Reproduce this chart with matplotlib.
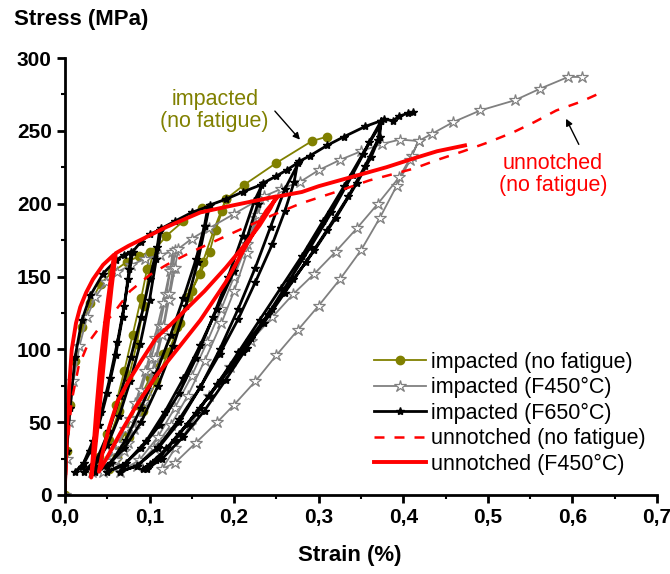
import numpy as np
import matplotlib
matplotlib.use("Agg")
import matplotlib.pyplot as plt
from matplotlib.ticker import MultipleLocator, FuncFormatter

plt.rcParams['font.family'] = ['Liberation Sans', 'DejaVu Sans']

# (strain %, stress MPa), loops written out point by point
imp_nf = [
    (0, 0), (0.002, 30), (0.006, 62), (0.012, 92), (0.02, 115), (0.03, 132), (0.042, 145),
    (0.056, 153), (0.073, 160), (0.088, 164), (0.1, 167),
    (0.097, 155), (0.09, 135), (0.08, 110), (0.07, 85), (0.06, 62), (0.05, 42), (0.04, 26), (0.032, 17),
    (0.04, 22), (0.052, 38), (0.064, 58), (0.075, 80), (0.085, 104), (0.093, 130), (0.1, 155), (0.104, 167),
    (0.12, 178), (0.14, 188), (0.162, 197), (0.19, 203),
    (0.186, 195), (0.178, 182), (0.171, 167), (0.16, 152), (0.146, 136), (0.132, 115), (0.116, 97),
    (0.1, 80), (0.085, 62), (0.072, 44), (0.06, 30), (0.052, 18),
    (0.062, 26), (0.076, 40), (0.092, 58), (0.108, 78), (0.122, 98), (0.136, 118), (0.15, 140),
    (0.163, 160), (0.176, 182), (0.19, 203),
    (0.212, 213), (0.25, 228), (0.292, 243), (0.31, 246),
]

imp_f450 = [
    (0, 0), (0.002, 25), (0.005, 50), (0.01, 78), (0.017, 102), (0.026, 122), (0.036, 136),
    (0.048, 146), (0.062, 153), (0.078, 158), (0.095, 162), (0.112, 165), (0.127, 167),
    (0.125, 156), (0.12, 138), (0.112, 116), (0.102, 94), (0.09, 72), (0.077, 52), (0.063, 35),
    (0.048, 23), (0.032, 16),
    (0.045, 20), (0.058, 30), (0.071, 45), (0.083, 63), (0.095, 85), (0.106, 108), (0.116, 132),
    (0.124, 154), (0.13, 168),
    (0.128, 156), (0.123, 138), (0.116, 116), (0.107, 94), (0.097, 72), (0.086, 53), (0.074, 36),
    (0.06, 24), (0.045, 16),
    (0.057, 20), (0.07, 30), (0.082, 45), (0.094, 64), (0.105, 86), (0.115, 110), (0.123, 134),
    (0.13, 156), (0.134, 169),
    (0.15, 176), (0.17, 183), (0.2, 193), (0.23, 203),
    (0.226, 190), (0.215, 172), (0.2, 150), (0.185, 128), (0.168, 105), (0.15, 82), (0.13, 60),
    (0.11, 40), (0.088, 24), (0.065, 16),
    (0.085, 20), (0.105, 32), (0.125, 48), (0.145, 68), (0.165, 92), (0.185, 118), (0.2, 140),
    (0.215, 166), (0.228, 192), (0.235, 205),
    (0.255, 210), (0.278, 215), (0.3, 223), (0.325, 230), (0.35, 236), (0.375, 241), (0.396, 244),
    (0.418, 243),
    (0.41, 233), (0.395, 218), (0.37, 200), (0.345, 183), (0.32, 167), (0.295, 152), (0.27, 138),
    (0.245, 122), (0.22, 106), (0.195, 88), (0.17, 68), (0.148, 48), (0.13, 32), (0.115, 18),
    (0.13, 22), (0.155, 36), (0.18, 50), (0.2, 62), (0.225, 78), (0.25, 96), (0.275, 113),
    (0.3, 130), (0.325, 148), (0.35, 168), (0.372, 190), (0.392, 212), (0.408, 230), (0.418, 243),
    (0.434, 248), (0.459, 256), (0.491, 264), (0.532, 271), (0.562, 279), (0.595, 287), (0.611, 287),
]

imp_f650 = [
    (0, 0), (0.002, 30), (0.006, 60), (0.012, 95), (0.02, 120), (0.03, 137), (0.045, 152),
    (0.06, 161), (0.07, 165), (0.078, 167),
    (0.076, 155), (0.07, 130), (0.062, 105), (0.053, 80), (0.043, 57), (0.033, 37), (0.022, 22), (0.012, 16),
    (0.02, 19), (0.03, 30), (0.04, 48), (0.05, 70), (0.06, 96), (0.068, 122), (0.075, 148), (0.08, 167),
    (0.09, 174), (0.1, 179), (0.112, 182),
    (0.109, 170), (0.1, 148), (0.09, 122), (0.078, 95), (0.065, 68), (0.052, 44), (0.038, 25), (0.022, 16),
    (0.035, 20), (0.05, 34), (0.064, 54), (0.077, 78), (0.089, 104), (0.1, 134), (0.108, 162), (0.114, 183),
    (0.13, 188), (0.15, 194), (0.169, 198),
    (0.165, 185), (0.155, 162), (0.14, 135), (0.125, 110), (0.108, 84), (0.09, 60), (0.072, 38),
    (0.054, 22), (0.036, 16),
    (0.05, 20), (0.07, 32), (0.09, 50), (0.11, 75), (0.128, 102), (0.143, 130), (0.157, 160),
    (0.166, 185), (0.171, 199),
    (0.19, 203), (0.21, 208), (0.232, 213),
    (0.228, 200), (0.216, 178), (0.2, 154), (0.18, 128), (0.16, 103), (0.14, 80), (0.118, 57),
    (0.096, 37), (0.072, 22), (0.05, 16),
    (0.068, 20), (0.09, 32), (0.112, 48), (0.135, 70), (0.155, 94), (0.175, 122), (0.193, 150),
    (0.21, 178), (0.224, 202), (0.234, 214),
    (0.25, 219), (0.262, 223), (0.275, 228),
    (0.271, 215), (0.26, 195), (0.245, 172), (0.225, 146), (0.205, 121), (0.183, 97), (0.16, 74),
    (0.135, 52), (0.11, 33), (0.085, 20), (0.065, 16),
    (0.085, 20), (0.11, 32), (0.135, 50), (0.16, 74), (0.183, 100), (0.205, 128), (0.225, 156),
    (0.243, 184), (0.26, 210), (0.277, 229),
    (0.29, 233), (0.31, 240), (0.33, 246), (0.355, 253), (0.374, 257),
    (0.372, 246), (0.362, 232), (0.345, 214), (0.32, 190), (0.295, 168), (0.27, 148), (0.245, 128),
    (0.22, 108), (0.195, 88), (0.17, 68), (0.145, 49), (0.12, 32), (0.1, 21), (0.092, 18),
    (0.108, 24), (0.13, 38), (0.155, 56), (0.18, 76), (0.205, 98), (0.23, 120), (0.255, 142),
    (0.28, 164), (0.305, 188), (0.33, 212), (0.352, 234), (0.374, 257),
    (0.37, 244), (0.355, 226), (0.335, 205), (0.31, 182), (0.285, 160), (0.26, 139), (0.235, 118),
    (0.21, 98), (0.185, 79), (0.16, 60), (0.135, 42), (0.112, 26), (0.097, 18),
    (0.115, 25), (0.14, 40), (0.165, 58), (0.19, 79), (0.215, 101), (0.24, 124), (0.265, 147),
    (0.29, 170), (0.315, 194), (0.34, 220), (0.36, 242), (0.377, 258),
    (0.388, 257), (0.395, 260), (0.405, 262), (0.412, 263),
]

unn_nf = [
    (0, 0), (0.003, 35), (0.008, 65), (0.016, 88), (0.028, 105), (0.042, 116), (0.055, 123),
    (0.077, 140), (0.1, 151), (0.12, 158), (0.15, 167), (0.18, 175), (0.21, 183), (0.245, 192),
    (0.278, 200), (0.32, 208), (0.36, 216), (0.412, 224), (0.44, 230), (0.471, 236), (0.5, 242),
    (0.53, 249), (0.555, 256), (0.581, 264), (0.61, 270), (0.633, 276),
]

unn_f450 = [
    (0, 8), (0.002, 40), (0.005, 75), (0.008, 100), (0.013, 118), (0.018, 129), (0.025, 139),
    (0.033, 148), (0.045, 158), (0.058, 165),
    (0.055, 152), (0.051, 135), (0.046, 112), (0.041, 85), (0.037, 58), (0.034, 35), (0.031, 12),
    (0.035, 28), (0.04, 55), (0.045, 85), (0.05, 115), (0.055, 142), (0.06, 166),
    (0.075, 171), (0.089, 175), (0.12, 184), (0.16, 194), (0.2, 199), (0.25, 205),
    (0.243, 197), (0.23, 185), (0.21, 170), (0.19, 156), (0.165, 140), (0.144, 128), (0.125, 117),
    (0.108, 108), (0.09, 92), (0.075, 78), (0.062, 64), (0.052, 46), (0.044, 28), (0.04, 16),
    (0.05, 26), (0.065, 42), (0.085, 62), (0.108, 82), (0.13, 98), (0.16, 120), (0.19, 146),
    (0.215, 172), (0.238, 195), (0.252, 205),
    (0.28, 208), (0.3, 212), (0.337, 218), (0.38, 225), (0.412, 231), (0.44, 236), (0.473, 240),
]

labels = ['impacted (no fatigue)', 'impacted (F450°C)', 'impacted (F650°C)',
          'unnotched (no fatigue)', 'unnotched (F450°C)']

olive = '#808000'
grey = '#808080'

fig = plt.figure(figsize=(6.7, 5.74), dpi=100)
ax = fig.add_axes([65 / 670, 79 / 574, 592 / 670, 437 / 574])

s, p = np.array(imp_nf).T
ax.plot(s, p, color=olive, lw=1.3, marker='o', ms=6, label=labels[0])
s, p = np.array(imp_f450).T
ax.plot(s, p, color=grey, lw=1.3, marker='*', ms=9, mfc='white', mec=grey, mew=0.9, label=labels[1])
s, p = np.array(imp_f650).T
ax.plot(s, p, color='black', lw=2.0, marker='*', ms=6, label=labels[2])
s, p = np.array(unn_nf).T
ax.plot(s, p, color='red', lw=1.8, ls=(0, (4, 4)), label=labels[3])
s, p = np.array(unn_f450).T
ax.plot(s, p, color='red', lw=2.8, label=labels[4])

ax.set_xlim(0, 0.7)
ax.set_ylim(0, 300)
for side in ['top', 'right']:
    ax.spines[side].set_visible(False)
for side in ['left', 'bottom']:
    ax.spines[side].set_linewidth(2)
ax.xaxis.set_major_locator(MultipleLocator(0.1))
ax.xaxis.set_minor_locator(MultipleLocator(0.05))
ax.yaxis.set_major_locator(MultipleLocator(50))
ax.yaxis.set_minor_locator(MultipleLocator(25))
ax.xaxis.set_major_formatter(FuncFormatter(lambda v, pos: f"{v:.1f}".replace('.', ',')))
ax.tick_params(which='major', direction='out', length=5.5, width=2, pad=4, labelsize=15)
ax.tick_params(which='minor', direction='out', length=3, width=1.5)
for lab in ax.get_xticklabels() + ax.get_yticklabels():
    lab.set_fontweight('bold')

fig.text(14 / 670, 1 - 20 / 574, 'Stress (MPa)', fontsize=16, fontweight='bold', ha='left', va='center')
fig.text(350 / 670, 1 - 555 / 574, 'Strain (%)', fontsize=16, fontweight='bold', ha='center', va='center')

ax.text(0.177, 264, 'impacted\n(no fatigue)', color=olive, fontsize=15.5, ha='center', va='center',
        linespacing=1.05)
ax.text(0.577, 220, 'unnotched\n(no fatigue)', color='red', fontsize=15.5, ha='center', va='center',
        linespacing=1.05)
ax.annotate('', xy=(0.28, 242.5), xytext=(0.246, 265),
            arrowprops=dict(arrowstyle='-|>', color='black', lw=1, mutation_scale=10))
ax.annotate('', xy=(0.591, 260), xytext=(0.609, 239),
            arrowprops=dict(arrowstyle='-|>', color='black', lw=1, mutation_scale=10))

ax.legend(loc='upper left', bbox_to_anchor=(374 / 670, 1 - 352 / 574), bbox_transform=fig.transFigure,
          frameon=False, fontsize=15.5, handlelength=2.4, handletextpad=0.25, labelspacing=0.2,
          borderpad=0, borderaxespad=0, numpoints=1)

fig.savefig('out.png', dpi=100)
